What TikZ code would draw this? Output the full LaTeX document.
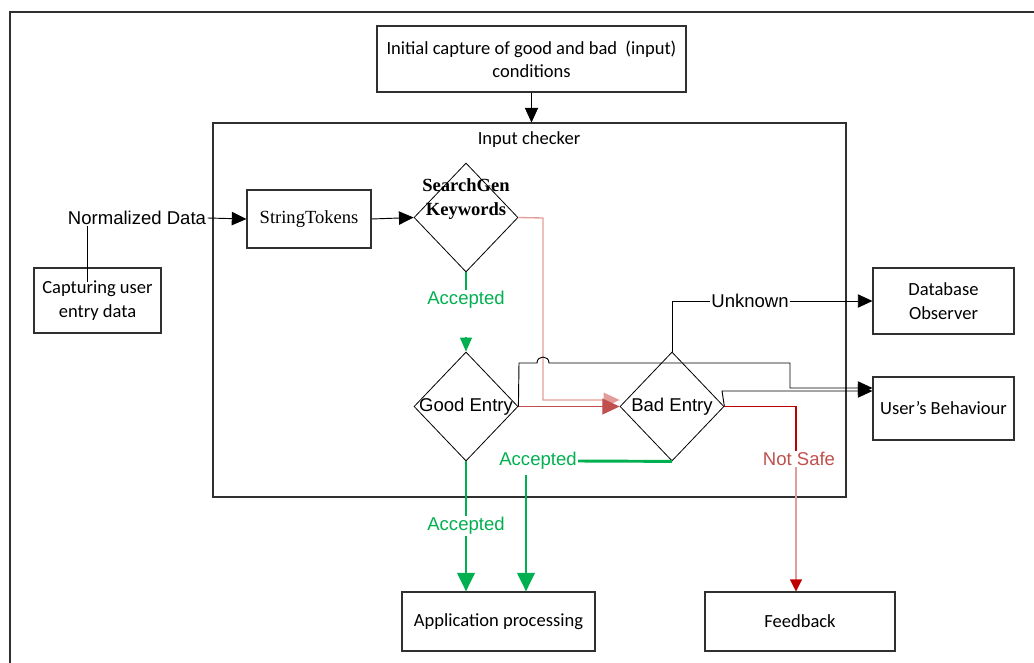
\documentclass[tikz,border=0pt]{standalone}
\usepackage{fontspec}
\setmainfont{Liberation Sans}
\newfontfamily\fArial{Liberation Sans}
\newfontfamily\fCal{Carlito}
\newfontfamily\fTimes{Liberation Serif}
\usetikzlibrary{shapes.geometric,arrows.meta}
\definecolor{accgreen}{HTML}{00B050}
\definecolor{badred}{HTML}{C0504D}
\definecolor{deepred}{HTML}{C00000}
\definecolor{softred}{HTML}{E39C9A}
\definecolor{framegray}{HTML}{303030}
\begin{document}
\begin{tikzpicture}[x=0.75pt,y=-0.75pt,
  txtA/.style={font=\fArial\fontsize{13.9}{17.5}\selectfont},
  txtC/.style={font=\fCal\fontsize{13.9}{17.5}\selectfont},
  box/.style={draw=framegray,line width=0.8pt,rectangle,inner sep=0pt,align=center,txtC},
  decision/.style={draw=black,line width=0.6pt,diamond,inner sep=0pt,
    minimum width=78pt,minimum height=81.75pt},
  conn/.style={draw=black,line width=0.7pt},
  blackhead/.style={-{Triangle[length=11pt,width=10pt]}},
  greenflow/.style={draw=accgreen,line width=2.2pt},
  greenhead/.style={-{Triangle[length=14pt,width=13pt]}},
  tag/.style={fill=white,inner sep=1pt,txtA}
]
\useasboundingbox (0,0) rectangle (1034,663);

% outer frame (only top and left edges are visible)
\draw[line width=1.6pt,framegray] (10,670) -- (10,12) -- (1040,12);

% boxes
\node[box,minimum width=231.75pt,minimum height=49.5pt] (init) at (531.5,59)
  {Initial capture of good and bad \ (input)\\conditions};
\node[box,minimum width=474.75pt,minimum height=280.5pt] (chk) at (529.5,310) {};
\node[txtC,inner sep=0pt] (chklbl) at (529,140) {Input checker};
\node[box,minimum width=95.25pt,minimum height=48.75pt] (cap) at (97.5,300.5)
  {Capturing user\\entry data};
\node[box,minimum width=93pt,minimum height=43.5pt,
  font=\fTimes\fontsize{13.9}{17.5}\selectfont] (tok) at (309,219) {StringTokens};
\node[box,minimum width=105.75pt,minimum height=49.5pt] (db) at (943.5,301)
  {Database\\Observer};
\node[box,minimum width=105.75pt,minimum height=47.25pt] (ub) at (943.5,408.5)
  {User’s Behaviour};
\node[box,minimum width=144.75pt,minimum height=44.25pt] (app) at (498.5,621.5)
  {Application processing};
\node[box,minimum width=142.5pt,minimum height=44.25pt] (fb) at (800,621.5)
  {Feedback};

% decisions
\node[decision] (sg) at (466,217.5) {};
\node[align=center,inner sep=0pt,
  font=\fTimes\bfseries\fontsize{13.9}{18}\selectfont] (sglbl) at (466,199)
  {SearchGen\\Keywords};
\node[decision] (good) at (466,406.5) {};
\node[txtA,inner sep=0pt] (goodlbl) at (466,406.5) {Good Entry};
\node[decision] (bad) at (672,406.5) {};
\node[txtA,inner sep=0pt] (badlbl) at (672,406.5) {Bad Entry};

% incoming data
\node[txtA,inner sep=1pt] (nd) at (137,218) {Normalized Data};
\coordinate (capline) at (87,282);
\draw[conn] (nd.south -| capline) -- (capline);
\draw[conn,blackhead] (nd.east) -- (tok.west);
\draw[conn,blackhead] (tok.east) -- (sg.west);
\draw[conn,line width=0.5pt,-{Triangle[length=11pt,width=10pt]}] (init.south) -- (init.south |- chk.north);

% accepted keywords go to the good-entry check
\node[tag,text=accgreen] (acc1) at (466,300) {Accepted};
\coordinate (acc1head) at (466,337);
\draw[greenflow] (sg.south) -- (acc1.north);
\draw[greenflow,line width=0.8pt,-{Triangle[length=10.5pt,width=9pt]}] (acc1head) -- (good.north);

% rejected keywords go to the bad-entry check
\coordinate (pk1) at (543,218);
\coordinate (pk2) at (543,400);
\draw[softred,line width=1pt,-{Triangle[length=12pt,width=11pt]}]
  (sg.east) -- (pk1) -- (pk2) -- (bad.west |- pk2);
\draw[badred,line width=0.9pt,-{Triangle[length=13pt,width=12pt]}] (good.east) -- (bad.west);

% both checks report to the behaviour log
\coordinate (g1) at (519,363);
\coordinate (g2) at (790,363);
\coordinate (g3) at (790,388);
\draw[conn,blackhead] (good.east) -- (g1) -- (537,363)
  .. controls (537,355) and (549,355) .. (549,363) -- (g2) -- (g3) -- (g3 -| ub.west);
\coordinate (b1) at (722,391);
\draw[conn,blackhead] (bad.east) -- (b1) -- (b1 -| ub.west);

% unknown entries go to the database observer
\node[tag] (unk) at (750,301) {Unknown};
\draw[conn] (bad.north) |- (unk.west);
\draw[conn,blackhead] (unk.east) -- (db.west |- unk.east);

% unsafe entries go to feedback
\node[tag,text=badred] (ns) at (799,459) {Not Safe};
\coordinate (r1) at (796,406.5);
\coordinate (r2) at (796,580);
\draw[deepred,line width=0.8pt] (bad.east) -- (r1) -- (r1 |- ns.north);
\draw[softred,line width=0.8pt] (r1 |- ns.south) -- (r2);
\draw[deepred,line width=0.8pt,-{Triangle[length=9pt,width=9pt]}]
  (r2) -- (r2 |- fb.north);

% accepted entries go to processing
\node[tag,text=accgreen] (acc2) at (466,526) {Accepted};
\draw[greenflow] (good.south) -- (acc2.north);
\draw[greenflow,greenhead] (acc2.south) -- (acc2.south |- app.north);
\node[tag,text=accgreen] (acc3) at (538,461) {Accepted};
\coordinate (c3) at (526,475);
\draw[greenflow] (bad.south) -- (acc3.east);
\draw[greenflow,greenhead] (c3) -- (c3 |- app.north);
\end{tikzpicture}
\end{document}
